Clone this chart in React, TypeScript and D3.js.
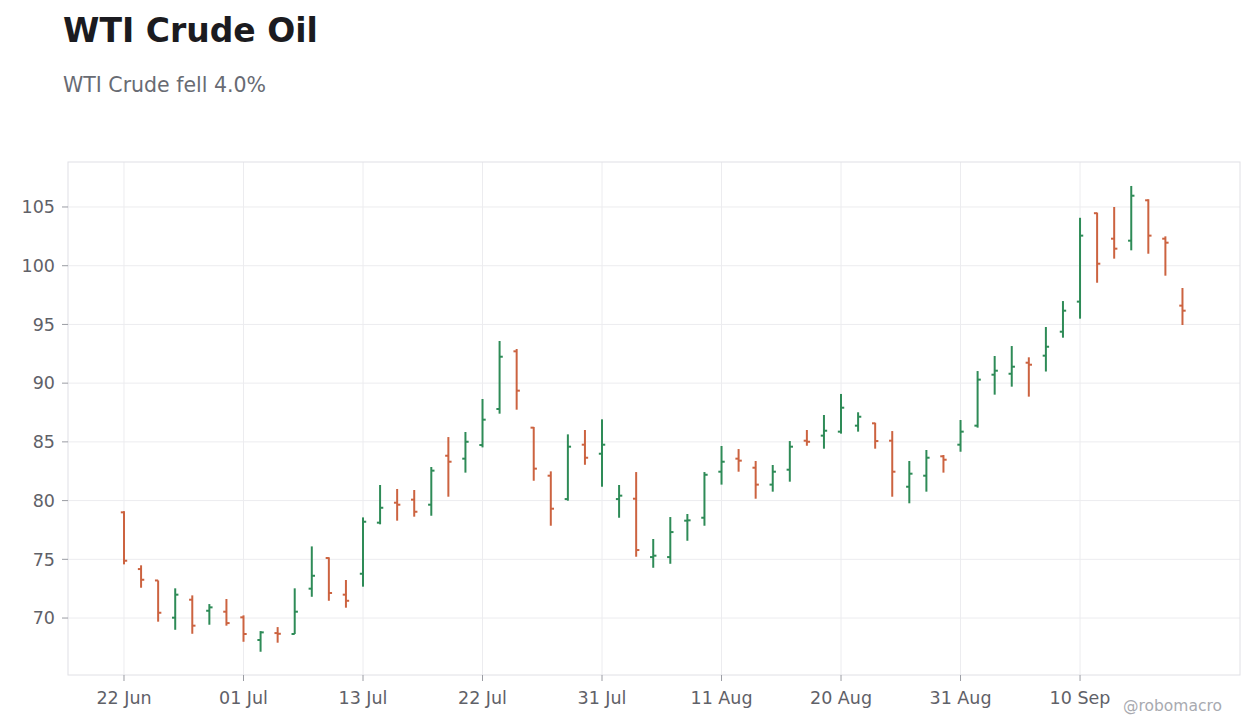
import React from "react";
import * as d3 from "d3";

const opens = [79.0, 74.17, 73.2, 70.03, 71.56, 70.62, 70.54, 70.06, 68.13, 68.72, 68.64, 72.5, 75.11, 71.99, 73.77, 78.12,
  79.82, 80.08, 79.65, 83.82, 83.57, 84.73, 87.8, 92.71, 86.21, 82.12, 80.13, 84.76, 83.99, 80.13, 80.16, 75.19,
  75.19, 78.29, 78.54, 82.46, 83.57, 82.8, 81.36, 82.63, 85.1, 85.53, 85.87, 86.38, 86.58, 85.1, 81.18, 82.12,
  83.77, 84.76, 86.38, 90.72, 90.8, 91.74, 92.34, 94.38, 96.94, 104.47, 102.3, 102.13, 105.57, 102.3, 96.6];
const highs = [79.1, 74.49, 73.2, 72.53, 71.93, 71.19, 71.62, 70.23, 68.89, 69.23, 72.53, 76.1, 75.17, 73.24, 78.57, 81.33,
  80.99, 80.9, 82.86, 85.41, 85.84, 88.65, 93.59, 92.91, 86.27, 82.49, 85.64, 86.01, 86.92, 81.33, 82.43, 76.73,
  78.6, 78.86, 82.43, 84.65, 84.39, 83.37, 83.03, 85.07, 86.01, 87.29, 89.08, 87.52, 86.63, 85.92, 83.37, 84.31,
  83.88, 86.86, 91.03, 92.31, 93.16, 92.2, 94.78, 96.99, 104.08, 104.52, 105.0, 106.79, 105.66, 102.5, 98.1];
const lows = [74.57, 72.58, 69.69, 69.0, 68.66, 69.43, 69.35, 67.98, 67.13, 67.9, 68.64, 71.81, 71.47, 70.88, 72.67, 77.98,
  78.29, 78.63, 78.71, 80.33, 82.38, 84.53, 87.4, 87.74, 81.69, 77.86, 79.99, 83.05, 81.18, 78.54, 75.22, 74.28,
  74.62, 76.58, 77.86, 81.36, 82.46, 80.16, 80.76, 81.61, 84.67, 84.42, 85.7, 85.87, 84.42, 80.33, 79.77, 80.76,
  82.38, 84.16, 86.21, 89.02, 89.7, 88.85, 90.99, 93.87, 95.49, 98.55, 100.6, 101.31, 101.02, 99.15, 94.95];
const closes = [74.88, 73.26, 70.45, 71.99, 69.35, 70.91, 69.57, 68.64, 68.78, 68.66, 70.54, 73.6, 72.13, 71.47, 78.2, 79.39,
  79.65, 79.05, 82.55, 83.31, 85.01, 86.89, 92.25, 89.36, 82.72, 79.31, 84.59, 83.65, 84.76, 80.42, 75.79, 75.31,
  77.32, 78.32, 82.2, 83.31, 83.4, 81.36, 82.46, 84.59, 85.01, 85.95, 87.91, 87.14, 85.07, 82.46, 82.29, 83.65,
  83.48, 85.87, 90.3, 91.06, 91.4, 91.57, 93.1, 96.17, 102.56, 100.17, 101.45, 105.96, 102.56, 101.96, 96.17];

const xTickIndices = [0, 7, 14, 21, 28, 35, 42, 49, 56];
const xTickLabels = ["22 Jun", "01 Jul", "13 Jul", "22 Jul", "31 Jul", "11 Aug", "20 Aug", "31 Aug", "10 Sep"];
const yTicks = [70, 75, 80, 85, 90, 95, 100, 105];

const title = "WTI Crude Oil";
const subtitle = "WTI Crude fell 4.0%";
const watermark = "@robomacro";

const W = 1260;
const H = 728;
const plot = { left: 68, right: 1240, top: 162, bottom: 675 };
const UP = "#2e8b57";
const DOWN = "#cc6340";
const FONT = "'DejaVu Sans', sans-serif";

export default function App() {
  const x = d3.scaleLinear().domain([-3.28, 65.37]).range([plot.left, plot.right]);
  const y = d3.scaleLinear().domain([65.15, 108.83]).range([plot.bottom, plot.top]);
  const tickHalf = 3.2;

  return (
    <svg width={W} height={H} style={{ position: "absolute", left: 0, top: 0, background: "#ffffff" }}
      fontFamily={FONT}>
      <rect x={0} y={0} width={W} height={H} fill="#ffffff" />
      <text x={63} y={42} fontSize={33} fontWeight="bold" fill="#1b1b20">{title}</text>
      <text x={63} y={92} fontSize={20.5} fill="#686b73">{subtitle}</text>

      {/* grid */}
      {yTicks.map((t) => (
        <line key={"gy" + t} x1={plot.left} x2={plot.right} y1={y(t)} y2={y(t)} stroke="#ececef" strokeWidth={1} />
      ))}
      {xTickIndices.map((i) => (
        <line key={"gx" + i} x1={x(i)} x2={x(i)} y1={plot.top} y2={plot.bottom} stroke="#ececef" strokeWidth={1} />
      ))}

      {/* bars */}
      {opens.map((o, i) => {
        const c = closes[i];
        const col = c >= o ? UP : DOWN;
        const cx = x(i);
        return (
          <g key={"b" + i} stroke={col} strokeWidth={2}>
            <line x1={cx} x2={cx} y1={y(highs[i])} y2={y(lows[i])} />
            <line x1={cx - tickHalf} x2={cx} y1={y(o)} y2={y(o)} />
            <line x1={cx} x2={cx + tickHalf} y1={y(c)} y2={y(c)} />
          </g>
        );
      })}

      {/* frame */}
      <rect x={plot.left} y={plot.top} width={plot.right - plot.left} height={plot.bottom - plot.top}
        fill="none" stroke="#e0e0e5" strokeWidth={1} />

      {/* y axis */}
      {yTicks.map((t) => (
        <g key={"yt" + t}>
          <line x1={plot.left - 6} x2={plot.left} y1={y(t)} y2={y(t)} stroke="#9a9ca3" strokeWidth={1} />
          <text x={plot.left - 13} y={y(t)} dy="0.36em" textAnchor="end" fontSize={17.5} fill="#5f6168">{t}</text>
        </g>
      ))}
      {/* x axis */}
      {xTickIndices.map((i, k) => (
        <g key={"xt" + i}>
          <line x1={x(i)} x2={x(i)} y1={plot.bottom} y2={plot.bottom + 6} stroke="#9a9ca3" strokeWidth={1} />
          <text x={x(i)} y={plot.bottom + 29} textAnchor="middle" fontSize={17.5} fill="#5f6168">{xTickLabels[k]}</text>
        </g>
      ))}

      <text x={1222} y={711} textAnchor="end" fontSize={15.5} fill="#a8aab0">{watermark}</text>
    </svg>
  );
}
